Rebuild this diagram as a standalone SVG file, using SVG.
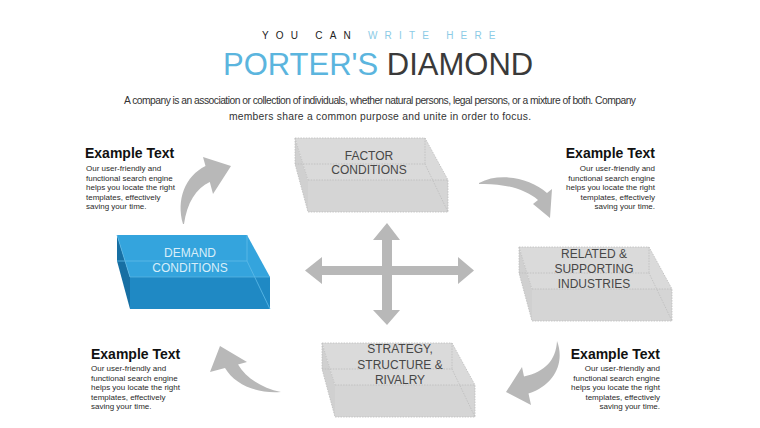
<svg xmlns="http://www.w3.org/2000/svg" width="760" height="428" viewBox="0 0 760 428">
<style>
text{font-family:"Liberation Sans",Arial,sans-serif}
.sub{font-size:10px;letter-spacing:7.2px}
.ttl{font-size:31px}
.para{font-size:10.3px;fill:#333}
.h{font-size:14px;font-weight:bold;fill:#111}
.b{font-size:8px;fill:#2a2a2a}
.gtop{fill:#dadada}
.gfront{fill:#d5d5d5}
.gside{fill:#d0d0d0}
.gedge{fill:none;stroke:#bdbdbd;stroke-width:0.8;stroke-dasharray:1.5 1.2}
.gt{font-size:12px;fill:#474747;text-anchor:middle}
.arr{fill:#b8b8b8}
</style>
<rect width="760" height="428" fill="#ffffff"/>
<text class="sub" x="262" y="38.5"><tspan fill="#222">YOU CAN </tspan><tspan fill="#8ccbe6">WRITE HERE</tspan></text>
<text class="ttl" x="223" y="75"><tspan fill="#5bb5de">PORTER'S </tspan><tspan fill="#3a3a3a">DIAMOND</tspan></text>
<text class="para" x="124" y="104" textLength="512" lengthAdjust="spacing">A company is an association or collection of individuals, whether natural persons, legal persons, or a mixture of both. Company</text>
<text class="para" x="229" y="120" textLength="302" lengthAdjust="spacing">members share a common purpose and unite in order to focus.</text>

<g id="connectors">
<path class="arr" d="M183,224 C176,200 185,176 205.5,166 L203,157 L231,166 L213,194 L209.8,182 C196,188 187,203 184,224 Z"/>
<path class="arr" d="M479,183 C500,172 530,178 547,193 L552,189 L550,218 L533,204 L538,200 C525,189 503,183 479,184 Z"/>
<path class="arr" d="M557,341 C565,362 555,385 528.5,393.6 L531,405 L506,392 L522,367 L524,376.5 C545,372 556,360 557,341 Z"/>
<path class="arr" d="M281,392 C262,388 246,378 238,364.5 L247,362 L220,346 L210,372 L225,368 C235,385 258,394 281,392 Z"/>
<path class="arr" d="M387,223 L400,240 L392,240 L392,266 L458,266 L458,257 L474,270.5 L458,284 L458,275 L392,275 L392,310 L400,310 L387,325 L373,310 L382,310 L382,275 L322,275 L322,284 L305,270.5 L322,257 L322,266 L382,266 L382,240 L373,240 Z"/>
</g>

<g id="factor" transform="translate(295,138)">
<polygon class="gside" points="0,0 13,42 13,74 0,26"/>
<polygon class="gtop" points="0,0 130,0 153,42 13,42"/>
<polygon class="gfront" points="13,42 153,42 153,74 13,74"/>
<polyline class="gedge" points="0,26 130,26 153,74"/>
<line class="gedge" x1="130" y1="0" x2="130" y2="26"/>
<polygon class="gedge" points="0,0 130,0 153,42 153,74 13,74 0,26"/>
<line class="gedge" x1="13" y1="42" x2="153" y2="42"/>
<line class="gedge" x1="0" y1="0" x2="13" y2="42"/>
<text class="gt" x="74" y="22">FACTOR</text>
<text class="gt" x="74" y="36">CONDITIONS</text>
</g>

<g id="demand" transform="translate(117,235)">
<polygon points="0,0 13,42 13,74 0,26" fill="#176fa3"/>
<polygon points="0,0 130,0 153,42 13,42" fill="#34a4dd"/>
<polygon points="13,42 153,42 153,74 13,74" fill="#1f89c4"/>
<polyline points="0,26 130,26 153,74" fill="none" stroke="#5fbbe8" stroke-width="0.8"/>
<line x1="130" y1="0" x2="130" y2="26" stroke="#5fbbe8" stroke-width="0.8"/>
<line x1="13" y1="42" x2="153" y2="42" stroke="#58b4e2" stroke-width="0.8"/>
<line x1="0" y1="0" x2="13" y2="42" stroke="#58b4e2" stroke-width="0.8"/>
<text x="73" y="22" font-size="12" fill="#d8eef9" text-anchor="middle">DEMAND</text>
<text x="73" y="37" font-size="12" fill="#d8eef9" text-anchor="middle">CONDITIONS</text>
</g>

<g id="related" transform="translate(519,247)">
<polygon class="gside" points="0,0 13,42 13,74 0,26"/>
<polygon class="gtop" points="0,0 130,0 153,42 13,42"/>
<polygon class="gfront" points="13,42 153,42 153,74 13,74"/>
<polyline class="gedge" points="0,26 130,26 153,74"/>
<line class="gedge" x1="130" y1="0" x2="130" y2="26"/>
<polygon class="gedge" points="0,0 130,0 153,42 153,74 13,74 0,26"/>
<line class="gedge" x1="13" y1="42" x2="153" y2="42"/>
<line class="gedge" x1="0" y1="0" x2="13" y2="42"/>
<text class="gt" x="75" y="11">RELATED &amp;</text>
<text class="gt" x="75" y="26">SUPPORTING</text>
<text class="gt" x="75" y="41">INDUSTRIES</text>
</g>

<g id="strategy" transform="translate(322,343)">
<polygon class="gside" points="0,0 13,42 13,74 0,26"/>
<polygon class="gtop" points="0,0 130,0 153,42 13,42"/>
<polygon class="gfront" points="13,42 153,42 153,74 13,74"/>
<polyline class="gedge" points="0,26 130,26 153,74"/>
<line class="gedge" x1="130" y1="0" x2="130" y2="26"/>
<polygon class="gedge" points="0,0 130,0 153,42 153,74 13,74 0,26"/>
<line class="gedge" x1="13" y1="42" x2="153" y2="42"/>
<line class="gedge" x1="0" y1="0" x2="13" y2="42"/>
<text class="gt" x="78" y="10">STRATEGY,</text>
<text class="gt" x="78" y="26">STRUCTURE &amp;</text>
<text class="gt" x="78" y="41">RIVALRY</text>
</g>

<g id="text-tl">
<text class="h" x="85" y="158">Example Text</text>
<text class="b" x="86" y="171">Our user-friendly  and</text>
<text class="b" x="86" y="180.5">functional search engine</text>
<text class="b" x="86" y="190">helps you locate the right</text>
<text class="b" x="86" y="199.5">templates, effectively</text>
<text class="b" x="86" y="209">saving your time.</text>
</g>
<g id="text-tr" text-anchor="end">
<text class="h" x="655" y="158">Example Text</text>
<text class="b" x="655" y="171">Our user-friendly  and</text>
<text class="b" x="655" y="180.5">functional search engine</text>
<text class="b" x="655" y="190">helps you locate the right</text>
<text class="b" x="655" y="199.5">templates, effectively</text>
<text class="b" x="655" y="209">saving your time.</text>
</g>
<g id="text-bl">
<text class="h" x="91" y="359">Example Text</text>
<text class="b" x="91" y="371">Our user-friendly  and</text>
<text class="b" x="91" y="380.5">functional search engine</text>
<text class="b" x="91" y="390">helps you locate the right</text>
<text class="b" x="91" y="399.5">templates, effectively</text>
<text class="b" x="91" y="409">saving your time.</text>
</g>
<g id="text-br" text-anchor="end">
<text class="h" x="660" y="359">Example Text</text>
<text class="b" x="660" y="371">Our user-friendly  and</text>
<text class="b" x="660" y="380.5">functional search engine</text>
<text class="b" x="660" y="390">helps you locate the right</text>
<text class="b" x="660" y="399.5">templates, effectively</text>
<text class="b" x="660" y="409">saving your time.</text>
</g>
</svg>
